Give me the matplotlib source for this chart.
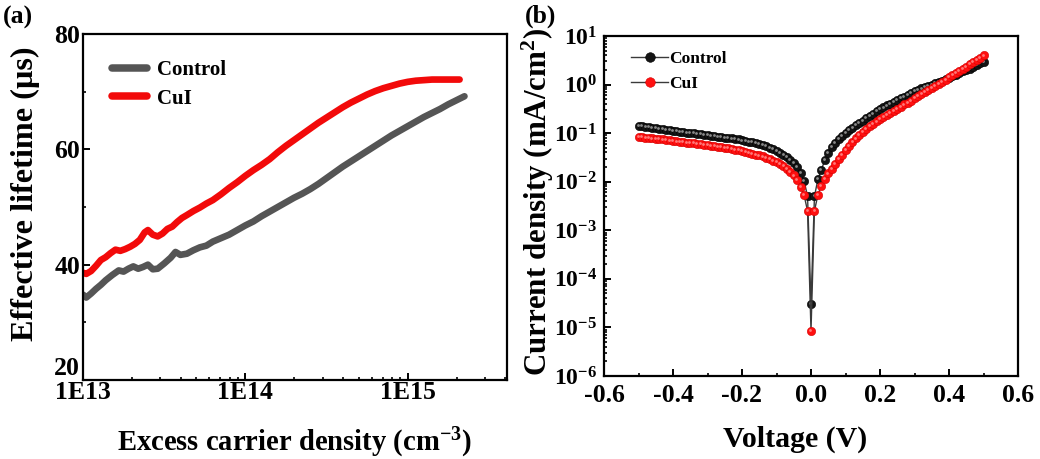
import numpy as np
import matplotlib
matplotlib.use("Agg")
import matplotlib.pyplot as plt
from matplotlib.ticker import FixedLocator, FuncFormatter, LogLocator, NullFormatter, MultipleLocator
from matplotlib.transforms import offset_copy

plt.rcParams['font.family'] = ['Liberation Serif', 'DejaVu Serif']
plt.rcParams['font.weight'] = 'bold'
plt.rcParams['mathtext.fontset'] = 'custom'
plt.rcParams['mathtext.rm'] = 'Liberation Serif:bold'
plt.rcParams['mathtext.bf'] = 'Liberation Serif:bold'
plt.rcParams['mathtext.it'] = 'Liberation Serif:bold:italic'
plt.rcParams['mathtext.default'] = 'bf'

# ---------------- Panel (a) data: log10(excess carrier density), lifetime (us)
control_log_n = [13.00, 13.02, 13.05, 13.08, 13.11, 13.14, 13.18, 13.22, 13.25, 13.28,
                 13.31, 13.34, 13.37, 13.40, 13.43, 13.46, 13.50, 13.54, 13.57, 13.60,
                 13.64, 13.68, 13.72, 13.76, 13.80, 13.85, 13.90, 13.95, 14.00, 14.05,
                 14.10, 14.15, 14.20, 14.25, 14.30, 14.35, 14.40, 14.45, 14.50, 14.55,
                 14.60, 14.65, 14.70, 14.75, 14.80, 14.85, 14.90, 14.95, 15.00, 15.05,
                 15.10, 15.15, 15.20, 15.25, 15.30, 15.35]
control_tau = [34.8, 34.3, 35.0, 35.8, 36.5, 37.3, 38.2, 39.0, 38.8, 39.3,
               39.7, 39.3, 39.6, 40.0, 39.2, 39.3, 40.2, 41.2, 42.2, 41.7,
               41.9, 42.5, 43.0, 43.3, 44.0, 44.6, 45.2, 46.0, 46.8, 47.5,
               48.4, 49.2, 50.0, 50.8, 51.6, 52.3, 53.1, 54.0, 55.0, 56.0,
               57.0, 57.9, 58.8, 59.7, 60.6, 61.5, 62.4, 63.2, 64.0, 64.8,
               65.6, 66.3, 67.0, 67.8, 68.5, 69.2]

cui_log_n = [13.00, 13.02, 13.05, 13.08, 13.11, 13.14, 13.17, 13.20, 13.23, 13.26,
             13.29, 13.32, 13.35, 13.38, 13.40, 13.43, 13.46, 13.49, 13.52, 13.55,
             13.58, 13.61, 13.64, 13.68, 13.72, 13.76, 13.80, 13.85, 13.90, 13.95,
             14.00, 14.05, 14.10, 14.15, 14.20, 14.25, 14.30, 14.35, 14.40, 14.45,
             14.50, 14.55, 14.60, 14.65, 14.70, 14.75, 14.80, 14.85, 14.90, 14.95,
             15.00, 15.05, 15.10, 15.15, 15.20, 15.25, 15.30, 15.32]
cui_tau = [38.6, 38.4, 38.9, 39.8, 40.8, 41.3, 42.0, 42.6, 42.4, 42.7,
           43.1, 43.6, 44.3, 45.6, 46.0, 45.2, 44.9, 45.4, 46.2, 46.6,
           47.4, 48.1, 48.6, 49.3, 49.9, 50.6, 51.2, 52.2, 53.3, 54.3,
           55.4, 56.4, 57.3, 58.3, 59.5, 60.6, 61.6, 62.6, 63.6, 64.6,
           65.5, 66.4, 67.3, 68.1, 68.8, 69.5, 70.1, 70.6, 71.0, 71.4,
           71.7, 71.9, 72.0, 72.1, 72.1, 72.1, 72.1, 72.1]

a_xtick_exps = [13, 14, 15]
a_xtick_labels = ['1E13', '1E14', '1E15']
a_yticks = [20, 40, 60, 80]

# ---------------- Panel (b) data: voltage (V), log10 |J| (mA/cm2)
voltage = [-0.50, -0.49, -0.48, -0.47, -0.46, -0.45, -0.44, -0.43, -0.42, -0.41,
           -0.40, -0.39, -0.38, -0.37, -0.36, -0.35, -0.34, -0.33, -0.32, -0.31,
           -0.30, -0.29, -0.28, -0.27, -0.26, -0.25, -0.24, -0.23, -0.22, -0.21,
           -0.20, -0.19, -0.18, -0.17, -0.16, -0.15, -0.14, -0.13, -0.12, -0.11,
           -0.10, -0.09, -0.08, -0.07, -0.06, -0.05, -0.04, -0.03, -0.02, -0.01,
           0.00,
           0.01, 0.02, 0.03, 0.04, 0.05, 0.06, 0.07, 0.08, 0.09, 0.10,
           0.11, 0.12, 0.13, 0.14, 0.15, 0.16, 0.17, 0.18, 0.19, 0.20,
           0.21, 0.22, 0.23, 0.24, 0.25, 0.26, 0.27, 0.28, 0.29, 0.30,
           0.31, 0.32, 0.33, 0.34, 0.35, 0.36, 0.37, 0.38, 0.39, 0.40,
           0.41, 0.42, 0.43, 0.44, 0.45, 0.46, 0.47, 0.48, 0.49, 0.50]

control_logj = [-0.85, -0.86, -0.87, -0.88, -0.89, -0.90, -0.91, -0.92, -0.93, -0.94,
                -0.95, -0.96, -0.97, -0.98, -0.99, -1.00, -1.00, -1.01, -1.02, -1.03,
                -1.04, -1.05, -1.06, -1.07, -1.08, -1.09, -1.10, -1.11, -1.12, -1.13,
                -1.15, -1.16, -1.18, -1.19, -1.21, -1.23, -1.25, -1.27, -1.30, -1.33,
                -1.36, -1.40, -1.44, -1.49, -1.55, -1.62, -1.70, -1.82, -1.98, -2.30,
                -4.52,
                -2.30, -1.95, -1.75, -1.56, -1.41, -1.29, -1.20, -1.12, -1.06, -1.00,
                -0.94, -0.89, -0.84, -0.79, -0.74, -0.69, -0.64, -0.60, -0.55, -0.51,
                -0.47, -0.43, -0.39, -0.36, -0.32, -0.28, -0.25, -0.21, -0.18, -0.14,
                -0.11, -0.08, -0.05, -0.03, 0.00, 0.03, 0.06, 0.08, 0.11, 0.14,
                0.17, 0.20, 0.23, 0.27, 0.30, 0.33, 0.37, 0.40, 0.44, 0.47]

cui_logj = [-1.07, -1.08, -1.09, -1.10, -1.11, -1.12, -1.12, -1.13, -1.14, -1.15,
            -1.16, -1.17, -1.18, -1.19, -1.20, -1.20, -1.21, -1.22, -1.23, -1.24,
            -1.25, -1.26, -1.27, -1.28, -1.29, -1.30, -1.31, -1.33, -1.34, -1.35,
            -1.37, -1.38, -1.40, -1.42, -1.44, -1.46, -1.48, -1.51, -1.54, -1.57,
            -1.60, -1.64, -1.68, -1.74, -1.80, -1.87, -1.97, -2.10, -2.28, -2.60,
            -5.07,
            -2.60, -2.27, -2.08, -1.95, -1.83, -1.73, -1.63, -1.53, -1.44, -1.35,
            -1.27, -1.19, -1.11, -1.04, -0.97, -0.91, -0.86, -0.81, -0.76, -0.71,
            -0.67, -0.63, -0.58, -0.54, -0.50, -0.46, -0.41, -0.37, -0.33, -0.28,
            -0.24, -0.20, -0.16, -0.11, -0.07, -0.03, 0.01, 0.06, 0.10, 0.15,
            0.19, 0.24, 0.28, 0.33, 0.37, 0.42, 0.46, 0.51, 0.55, 0.60]

b_xticks = [-0.6, -0.4, -0.2, 0.0, 0.2, 0.4, 0.6]
b_xtick_labels = ['-0.6', '-0.4', '-0.2', '0.0', '0.2', '0.4', '0.6']
b_ytick_exps = [-6, -5, -4, -3, -2, -1, 0, 1]

series_names = ['Control', 'CuI']

# ---------------- Figure
W, H = 1040, 459
fig = plt.figure(figsize=(W / 100, H / 100), dpi=100)

def box(l, t, r, b):
    return [l / W, (H - b) / H, (r - l) / W, (b - t) / H]

ax1 = fig.add_axes(box(83, 34, 507, 380))
ax2 = fig.add_axes(box(604, 36, 1018, 376))

for ax in (ax1, ax2):
    for s in ax.spines.values():
        s.set_linewidth(1.6)
    ax.tick_params(which='both', direction='in', top=False, right=False, width=1.4)
    ax.tick_params(which='major', length=5, labelsize=18.5)
    ax.tick_params(which='minor', length=2.5, width=1.2)

# Panel (a)
gray = '#555555'
red = '#f20a0a'
ax1.plot(10 ** np.array(control_log_n), control_tau, color=gray, lw=4.8,
         solid_capstyle='round', solid_joinstyle='round', label=series_names[0])
ax1.plot(10 ** np.array(cui_log_n), cui_tau, color=red, lw=4.8,
         solid_capstyle='round', solid_joinstyle='round', label=series_names[1])
ax1.set_xscale('log')
ax1.set_xlim(1e13, 10 ** 15.612)
ax1.set_ylim(20, 80)
ax1.xaxis.set_major_locator(FixedLocator([10.0 ** e for e in a_xtick_exps]))
ax1.xaxis.set_major_formatter(FuncFormatter(
    lambda v, p: a_xtick_labels[a_xtick_exps.index(int(round(np.log10(v))))]
    if int(round(np.log10(v))) in a_xtick_exps else ''))
ax1.xaxis.set_minor_locator(LogLocator(base=10, subs=np.arange(2, 10), numticks=20))
ax1.xaxis.set_minor_formatter(NullFormatter())
ax1.set_yticks(a_yticks)
ax1.yaxis.set_minor_locator(MultipleLocator(10))
ax1.tick_params(axis='x', which='major', pad=1)
ax1.tick_params(axis='y', which='major', pad=2)
# the lowest y label sits just above the x labels, as in the original
ax1.yaxis.get_major_ticks()[0].label1.set_verticalalignment('bottom')
leg1 = ax1.legend(loc='upper left', bbox_to_anchor=(0.068, 0.925), frameon=False,
                  fontsize=15, handlelength=1.7, handletextpad=0.45,
                  labelspacing=0.42, borderpad=0, borderaxespad=0)
for h in leg1.get_lines():
    h.set_linewidth(5.4)
    h.set_solid_capstyle('round')

# Panel (b)
line_c = '#3a3a3a'
hl = offset_copy(ax2.transData, fig=fig, x=-0.9, y=0.9, units='dots')
ax2.plot(voltage, 10 ** np.array(control_logj), color=line_c, lw=1.0,
         marker='o', ms=6.0, mfc='#141414', mec='#000000', mew=0.4,
         label=series_names[0])
ax2.plot(voltage, 10 ** np.array(control_logj), ls='none', marker='o', ms=2.0,
         mfc='#8a8a8a', mec='none', transform=hl)
ax2.plot(voltage, 10 ** np.array(cui_logj), color=line_c, lw=1.0,
         marker='o', ms=6.0, mfc='#ff1010', mec='#d40000', mew=0.4,
         label=series_names[1])
ax2.plot(voltage, 10 ** np.array(cui_logj), ls='none', marker='o', ms=2.0,
         mfc='#ff7a7a', mec='none', transform=hl)
ax2.set_yscale('log')
ax2.set_xlim(-0.6, 0.6)
ax2.set_ylim(1e-6, 1e1)
ax2.set_xticks(b_xticks)
ax2.set_xticklabels(b_xtick_labels)
ax2.xaxis.set_minor_locator(MultipleLocator(0.1))
ax2.yaxis.set_major_locator(FixedLocator([10.0 ** e for e in b_ytick_exps]))
ax2.yaxis.set_major_formatter(FuncFormatter(
    lambda v, p: '10$^{%d}$' % int(round(np.log10(v)))))
ax2.yaxis.set_minor_locator(LogLocator(base=10, subs=np.arange(2, 10), numticks=20))
ax2.yaxis.set_minor_formatter(NullFormatter())
ax2.tick_params(axis='x', which='major', pad=6)
ax2.tick_params(axis='y', which='major', pad=5, labelsize=17)
leg2 = ax2.legend(loc='upper left', bbox_to_anchor=(0.066, 0.955), frameon=False,
                  fontsize=12.5, handlelength=2.1, handletextpad=0.1,
                  labelspacing=0.5, borderpad=0, borderaxespad=0, markerscale=1.15)

# Axis labels
fig.text(25 / W, (H - 194) / H, 'Effective lifetime (μs)', rotation=90,
         ha='center', va='center', fontsize=23.2)
fig.text(294 / W, (H - 451) / H, 'Excess carrier density (cm$^{-3}$)',
         ha='center', va='baseline', fontsize=20.6)
fig.text(538 / W, (H - 202) / H, 'Current density (mA/cm$^{2}$)', rotation=90,
         ha='center', va='center', fontsize=22.3)
fig.text(795 / W, (H - 447) / H, 'Voltage (V)',
         ha='center', va='baseline', fontsize=21.5)

# Panel labels
fig.text(3 / W, (H - 17) / H, '(a)', ha='left', va='center', fontsize=18.5)
fig.text(525 / W, (H - 16) / H, '(b)', ha='left', va='center', fontsize=18.5)

fig.savefig('out.png', dpi=100)
